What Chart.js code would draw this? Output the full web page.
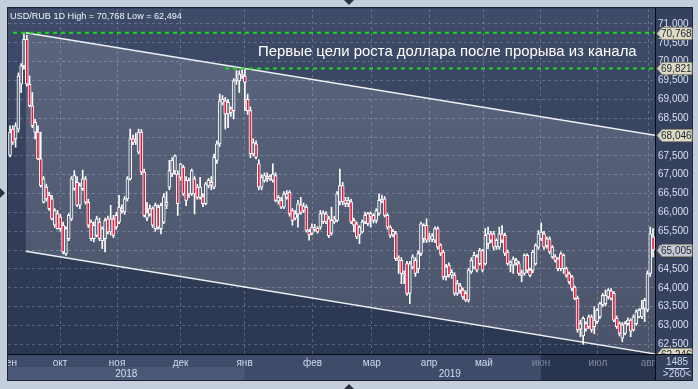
<!DOCTYPE html>
<html>
<head>
<meta charset="utf-8">
<script src="https://cdn.jsdelivr.net/npm/chart.js@4.4.1/dist/chart.umd.min.js"></script>
<style>
html,body{margin:0;padding:0;background:#c5cfdb;overflow:hidden;}
canvas{display:block;}
</style>
</head>
<body>
<canvas id="chart" width="698" height="389"></canvas>
<script>
// ---- daily bars (USD/RUB) ----
const openP = [
67.51,68.21,67.95,68.21,69.40,69.89,70.59,69.40,68.83,68.13,
68.13,67.42,66.27,66.67,66.45,66.36,65.66,65.97,65.88,65.66,
64.90,65.30,65.83,66.63,66.80,66.19,66.63,66.89,66.27,65.74,
65.30,65.39,65.74,65.25,65.30,65.83,65.48,65.83,65.92,65.74,
66.10,66.01,66.36,66.89,67.95,67.90,67.60,68.13,67.07,65.85,
65.95,66.10,65.57,66.14,65.57,65.74,66.19,
66.67,67.02,67.10,67.02,66.93,67.20,66.85,66.49,66.49,66.89,
66.67,66.40,66.42,66.23,66.70,66.80,66.67,67.38,67.82,68.90,
68.96,68.61,68.75,68.70,69.50,69.49,69.67,69.62,69.00,68.70,
67.55,67.82,67.29,66.67,66.85,66.90,66.95,66.85,66.98,66.30,
66.32,66.14,66.40,66.53,66.05,65.85,65.96,66.20,66.05,66.14,
65.50,65.44,65.60,65.58,65.61,65.75,65.96,65.83,
65.45,65.75,65.79,66.28,66.71,66.32,66.23,66.28,65.79,65.70,
65.40,65.48,65.75,65.97,65.88,65.92,65.79,65.97,66.30,66.36,
65.92,65.61,65.40,65.44,64.80,64.73,64.38,64.64,63.85,64.55,
64.73,64.50,64.91,65.30,65.66,65.30,65.28,65.26,65.57,65.13,
64.95,64.29,64.60,64.34,64.34,63.85,64.05,63.94,63.85,63.67,
64.42,64.55,64.82,64.64,64.99,64.64,
65.17,65.43,65.43,65.10,65.08,65.43,65.39,64.95,64.60,64.60,
64.73,64.64,64.40,64.38,64.86,64.47,64.47,64.64,65.08,65.30,
65.43,65.12,65.30,64.82,64.82,64.77,64.90,64.51,64.51,64.38,
64.29,64.02,63.72,62.90,62.72,63.05,62.97,63.23,62.97,63.10,
63.23,63.55,63.58,63.76,63.92,63.85,63.19,63.05,62.66,62.79,
63.05,63.14,62.88,63.05,63.23,63.23,63.45,63.41,64.38,65.35
];
const highP = [
68.30,68.30,68.38,69.70,69.95,70.768,70.70,69.62,69.18,68.47,
68.30,68.13,66.95,66.75,66.54,66.45,66.10,66.05,65.95,65.74,
65.62,65.97,66.95,67.11,66.95,66.78,67.12,66.95,66.35,65.80,
65.75,65.90,65.85,65.62,65.85,65.90,66.19,65.92,66.00,66.45,
66.20,66.42,66.95,68.21,68.05,68.10,68.21,68.20,67.15,66.27,
66.20,66.15,66.25,66.20,66.25,66.50,66.55,
67.38,67.45,67.53,67.10,67.30,67.25,66.95,66.92,67.15,66.95,
66.75,66.93,66.50,66.80,66.90,66.95,67.55,67.90,69.14,69.10,
69.05,69.00,68.80,69.55,69.76,69.76,69.80,69.821,69.14,68.80,
67.95,67.90,67.40,67.00,67.05,67.05,67.00,67.29,67.05,66.45,
66.40,66.55,66.58,66.58,66.10,66.05,66.32,66.40,66.25,66.20,
65.55,65.70,65.68,65.62,66.05,66.04,66.02,65.90,
66.14,65.90,66.55,67.15,66.80,66.40,66.40,66.35,65.85,65.75,
65.65,65.80,66.01,66.00,66.02,65.97,66.10,66.49,66.45,66.42,
65.97,65.65,65.55,65.50,64.85,64.80,64.45,64.70,64.70,64.88,
64.80,64.98,65.74,65.70,65.83,65.45,65.44,65.62,65.62,65.17,
65.00,64.62,64.66,64.48,64.40,64.20,64.12,64.00,63.92,64.52,
64.80,64.95,64.88,65.05,65.02,65.57,
65.61,65.50,65.50,65.30,65.61,65.65,65.45,65.00,64.72,64.82,
64.78,64.70,64.47,64.90,64.90,64.52,65.00,65.17,65.52,65.72,
65.50,65.35,65.35,65.12,64.88,64.80,64.95,64.90,64.55,64.42,
64.33,64.05,63.78,63.14,63.23,63.10,63.28,63.28,63.50,63.45,
63.62,63.85,63.94,63.98,63.98,63.90,63.25,63.10,63.08,63.10,
63.20,63.18,63.28,63.42,63.45,63.67,63.72,64.45,65.61,65.57
];
const lowP = [
67.47,67.80,67.73,68.13,69.18,69.80,69.35,68.80,68.25,67.95,
67.40,66.67,66.25,66.30,66.05,65.80,65.60,65.55,65.50,64.90,
64.86,65.25,65.78,66.58,66.15,66.10,66.58,66.22,65.60,65.25,
65.22,65.35,65.25,65.04,64.95,65.43,65.40,65.33,65.55,65.70,
65.98,65.95,66.30,66.85,67.80,67.80,67.55,67.00,65.88,65.78,
65.90,65.60,65.50,65.55,65.43,65.70,66.10,
66.60,66.95,67.00,65.92,66.85,66.45,66.18,66.40,66.45,65.96,
66.35,66.35,66.15,66.20,66.65,66.60,66.62,67.30,67.75,68.85,
68.21,68.25,68.55,68.48,69.40,69.18,69.55,68.70,68.60,67.45,
67.50,67.42,66.60,66.60,66.80,66.82,66.85,66.80,66.28,66.22,
66.10,66.10,66.35,65.90,65.66,65.80,65.61,65.95,66.00,65.48,
65.26,65.40,65.50,65.45,65.55,65.70,65.70,65.33,
65.40,65.70,65.75,66.20,66.20,66.15,66.15,65.70,65.48,65.30,
65.17,65.45,65.70,65.65,65.61,65.72,65.72,65.92,66.25,65.88,
65.55,65.33,65.35,64.72,64.38,64.11,64.11,63.80,63.58,64.50,
64.30,64.40,64.85,65.20,65.20,65.22,65.22,65.20,65.02,64.85,
64.22,64.20,64.28,64.25,63.80,63.80,63.85,63.70,63.63,63.62,
64.38,64.50,64.42,64.60,64.42,64.60,
65.04,65.20,65.00,65.02,65.02,65.20,64.85,64.60,64.42,64.38,
64.60,64.33,64.16,64.33,64.40,64.29,64.40,64.60,65.02,65.25,
65.02,65.05,64.90,64.78,64.68,64.45,64.45,64.38,64.28,64.10,
63.92,63.68,62.82,62.70,62.494,62.85,62.92,62.82,62.78,63.05,
63.18,63.50,63.52,63.70,63.68,63.10,62.92,62.72,62.57,62.75,
63.00,62.70,62.85,63.00,63.20,63.18,63.10,63.36,64.30,64.82
];
const closeP = [
68.13,67.86,68.30,69.62,69.89,70.59,69.40,68.83,68.30,68.39,
67.42,66.71,66.89,66.36,66.10,65.83,66.05,65.57,65.57,64.95,
65.57,65.92,66.89,66.98,66.19,66.71,66.89,66.27,65.66,65.30,
65.66,65.83,65.30,65.57,65.78,65.48,65.83,65.39,65.61,66.14,
66.05,66.36,66.89,67.95,67.86,67.93,68.13,67.07,65.92,66.00,
66.10,65.66,66.19,65.61,66.19,66.41,66.27,
67.11,67.38,67.50,66.23,67.29,66.49,66.32,66.85,67.11,66.49,
66.40,66.67,66.23,66.76,66.85,66.72,67.46,67.82,68.96,69.00,
68.61,68.92,68.65,69.49,69.54,69.67,69.63,69.45,68.70,67.55,
67.85,67.46,66.67,66.93,66.98,66.95,66.89,67.02,66.32,66.40,
66.14,66.49,66.50,65.96,65.79,65.97,66.23,66.00,66.17,65.52,
65.40,65.61,65.55,65.48,65.96,65.98,65.75,65.38,
65.79,65.83,66.49,66.71,66.28,66.23,66.32,65.75,65.66,65.35,
65.61,65.75,65.92,65.70,65.97,65.79,66.05,66.32,66.35,65.92,
65.61,65.39,65.50,64.77,64.73,64.38,64.34,63.85,64.64,64.82,
64.38,64.91,65.70,65.66,65.26,65.35,65.38,65.57,65.08,64.91,
64.29,64.55,64.34,64.41,63.85,64.11,63.93,63.76,63.67,64.47,
64.73,64.86,64.47,64.99,64.47,65.39,
65.43,65.26,65.08,65.26,65.43,65.26,64.91,64.64,64.68,64.77,
64.66,64.38,64.33,64.86,64.47,64.33,64.95,65.13,65.43,65.48,
65.08,65.30,64.95,65.08,64.73,64.51,64.51,64.86,64.33,64.16,
63.98,63.72,62.88,63.05,63.19,62.90,63.23,62.88,63.14,63.41,
63.58,63.80,63.80,63.94,63.72,63.14,62.97,62.79,63.02,63.05,
63.14,62.85,63.23,63.36,63.41,63.45,63.67,64.38,65.43,65.005
];

// ---- axis ticks / labels ----
const monthTicks  = [-0.4, 17.9, 38.3, 61.0, 83.9, 108.2, 129.4, 149.9, 169.5, 189.9, 210.3, 228.2];
const monthLabels = ['сен','окт','ноя','дек','янв','фев','мар','апр','май','июн','июл','авг'];
const yearLabels  = ['2018', '2019'];
const yearStartTick = [0, 4];
const selectionFromTick = 9;

// ---- drawn levels ----
const channelX      = [5.6, 230.7];
const channelTop    = [70.768, 68.046];
const channelBottom = [64.968, 62.246];
const targetLevels  = [70.768, 69.821];
const targetFrom    = [1.07, 76.9];
const titleText = 'USD/RUB 1D High = 70,768 Low = 62,494';
const noteText  = 'Первые цели роста доллара после прорыва из канала';
const counterTexts = ['1485', '>260<'];

const X_MIN = -0.715, X_MAX = 230.7, Y_MIN = 62.243, Y_MAX = 71.397;
const FONT = '"Liberation Sans", Arial, sans-serif';
const GRID = 'rgba(165,180,212,0.36)';
const fmt = v => v.toFixed(3).replace('.', ',');
const idx = closeP.map((_, i) => i);

const framePlugin = {
  id: 'frame',
  beforeDraw(chart) {
    const {ctx, chartArea: a, scales: {x}} = chart;
    ctx.save();
    ctx.fillStyle = '#c5cfdb'; ctx.fillRect(0, 0, chart.width, chart.height);
    ctx.fillStyle = '#35415d'; ctx.fillRect(8, 8, 684, 372);
    const g = ctx.createLinearGradient(0, a.top, 0, a.bottom);
    g.addColorStop(0, '#3f4c69'); g.addColorStop(1, '#2b3650');
    ctx.fillStyle = g; ctx.fillRect(a.left, a.top, a.right - a.left, a.bottom - a.top);
    ctx.fillStyle = '#3e4b69'; ctx.fillRect(a.left, a.bottom, a.right - a.left, 380 - a.bottom);
    const jan = x.getPixelForValue(monthTicks[yearStartTick[1]]);
    ctx.fillStyle = '#4a5876'; ctx.fillRect(a.left, a.bottom + 13, jan - a.left, 380 - a.bottom - 13);
    const sel = x.getPixelForValue(monthTicks[selectionFromTick]);
    ctx.fillStyle = '#29344f'; ctx.fillRect(sel, a.bottom, a.right - sel, 380 - a.bottom);
    ctx.restore();
  },
  afterDraw(chart) {
    const {ctx, chartArea: a, scales: {x, y}} = chart;
    ctx.save();
    ctx.fillStyle = '#c5cfdb';
    ctx.fillRect(0, 0, 8, chart.height);
    ctx.fillRect(692, 0, 6, chart.height);
    ctx.fillRect(0, 380, chart.width, 9);
    ctx.strokeStyle = '#1d2436'; ctx.lineWidth = 1; ctx.strokeRect(7.5, 7.5, 685, 373);
    ctx.fillStyle = '#070a10';
    ctx.fillRect(a.right, 8, 1, 372);
    ctx.fillRect(8, a.bottom, 684, 1);
    ctx.font = '10px ' + FONT; ctx.fillStyle = '#d3ddef';
    ctx.textAlign = 'center'; ctx.textBaseline = 'middle';
    const b = [a.left, x.getPixelForValue(monthTicks[yearStartTick[1]]), a.right];
    yearLabels.forEach((t, k) => ctx.fillText(t, (b[k] + b[k + 1]) / 2, 374));
    ctx.textAlign = 'left'; ctx.textBaseline = 'alphabetic';
    ctx.font = '10px ' + FONT;
    let s = 10 * 172 / ctx.measureText(titleText).width;
    ctx.font = s.toFixed(2) + 'px ' + FONT; ctx.fillStyle = '#f2f4f8';
    ctx.fillText(titleText, 10, 18.5);
    ctx.font = '14px ' + FONT;
    s = 14 * 379 / ctx.measureText(noteText).width;
    ctx.font = s.toFixed(2) + 'px ' + FONT; ctx.fillStyle = '#ffffff';
    ctx.fillText(noteText, 258, 56);
    ctx.save();
    ctx.beginPath(); ctx.rect(a.right + 1, a.top, 40, a.bottom - a.top); ctx.clip();
    const boxes = [
      [targetLevels[0], '#dedbc4'], [targetLevels[1], '#dedbc4'],
      [channelTop[1], '#dedbc4'], [closeP[closeP.length - 1], '#c5c9d1'],
      [channelBottom[1], '#dedbc4']
    ];
    ctx.font = '10px ' + FONT; ctx.textBaseline = 'middle'; ctx.textAlign = 'left';
    boxes.forEach(([v, col]) => {
      const py = Math.round(y.getPixelForValue(v)) + 0.5;
      const l = a.right + 2;
      ctx.beginPath();
      ctx.moveTo(l, py); ctx.lineTo(l + 5, py - 6); ctx.lineTo(692, py - 6);
      ctx.lineTo(692, py + 6); ctx.lineTo(l + 5, py + 6); ctx.closePath();
      ctx.fillStyle = col; ctx.fill();
      ctx.strokeStyle = '#8e8b7a'; ctx.stroke();
      ctx.fillStyle = '#1b2130';
      ctx.fillText(fmt(v), l + 4, py + 0.5);
    });
    ctx.restore();
    ctx.fillStyle = '#cdd8ee'; ctx.textAlign = 'center'; ctx.textBaseline = 'middle';
    ctx.font = '10px ' + FONT;
    ctx.fillText(counterTexts[0], 677, 362);
    ctx.fillRect(665, 368, 24, 1);
    ctx.fillText(counterTexts[1], 677, 374.5);
    ctx.fillStyle = '#2a3140';
    ctx.beginPath(); ctx.moveTo(344, 0); ctx.lineTo(354, 0); ctx.lineTo(349, 5); ctx.fill();
    ctx.beginPath(); ctx.moveTo(344, 389); ctx.lineTo(354, 389); ctx.lineTo(349, 384); ctx.fill();
    ctx.beginPath(); ctx.moveTo(0, 188); ctx.lineTo(0, 198); ctx.lineTo(5, 193); ctx.fill();
    ctx.restore();
  }
};

new Chart(document.getElementById('chart'), {
  type: 'bar',
  data: {
    datasets: [
      { type: 'line', label: 'top', data: channelX.map((v, k) => ({x: v, y: channelTop[k]})),
        borderColor: '#eef0f4', borderWidth: 1.5, pointRadius: 0, fill: false, order: 3 },
      { type: 'line', label: 'bottom', data: channelX.map((v, k) => ({x: v, y: channelBottom[k]})),
        borderColor: '#eef0f4', borderWidth: 1.5, pointRadius: 0, fill: {target: 0},
        backgroundColor: 'rgba(255,255,255,0.15)', order: 3 },
      { type: 'bar', label: 'wick', data: idx.map(i => ({x: i, y: [lowP[i], highP[i]]})),
        backgroundColor: '#ffffff', borderWidth: 0, barThickness: 1, grouped: false, order: 2 },
      { type: 'bar', label: 'body',
        data: idx.map(i => ({x: i, y: [Math.min(openP[i], closeP[i]), Math.max(openP[i], closeP[i])]})),
        backgroundColor: idx.map(i => closeP[i] < openP[i] ? '#e31b3d' : 'rgba(62,72,98,0.85)'),
        borderColor: '#ffffff', borderWidth: 1, borderSkipped: false, barThickness: 3, grouped: false, order: 1 },
      { type: 'line', label: 't1', data: [{x: targetFrom[0], y: targetLevels[0]}, {x: X_MAX, y: targetLevels[0]}],
        borderColor: '#14e014', borderWidth: 2, borderDash: [4, 4], pointRadius: 0, fill: false, order: 0 },
      { type: 'line', label: 't2', data: [{x: targetFrom[1], y: targetLevels[1]}, {x: X_MAX, y: targetLevels[1]}],
        borderColor: '#14e014', borderWidth: 2, borderDash: [4, 4], pointRadius: 0, fill: false, order: 0 }
    ]
  },
  options: {
    responsive: false, animation: false, devicePixelRatio: 1, events: [],
    layout: {padding: {left: 8, top: 8, right: 6, bottom: 10}},
    plugins: {legend: {display: false}, tooltip: {enabled: false}},
    scales: {
      x: {
        type: 'linear', min: X_MIN, max: X_MAX, offset: false,
        afterBuildTicks: s => { s.ticks = monthTicks.map(v => ({value: v})); },
        afterFit: s => { s.height = 25; s.paddingLeft = 0; s.paddingRight = 0; },
        grid: {offset: false, drawTicks: false, color: c => c.index === 0 ? 'rgba(0,0,0,0)' : GRID},
        border: {display: false, dash: [3, 3]},
        ticks: {autoSkip: false, maxRotation: 0, padding: 3,
          font: {family: FONT, size: 10},
          color: c => c.index >= selectionFromTick ? '#7e899e' : '#d0dbee',
          callback: (v, i) => monthLabels[i]}
      },
      y: {
        position: 'right', min: Y_MIN, max: Y_MAX,
        afterFit: s => { s.width = 37; },
        grid: {drawTicks: false, color: GRID},
        border: {display: false, dash: [3, 3]},
        ticks: {stepSize: 0.5, includeBounds: false, padding: 3, crossAlign: 'near',
          font: {family: FONT, size: 10}, color: '#d6e0f2',
          callback: v => fmt(v)}
      }
    }
  },
  plugins: [framePlugin]
});
</script>
</body>
</html>
